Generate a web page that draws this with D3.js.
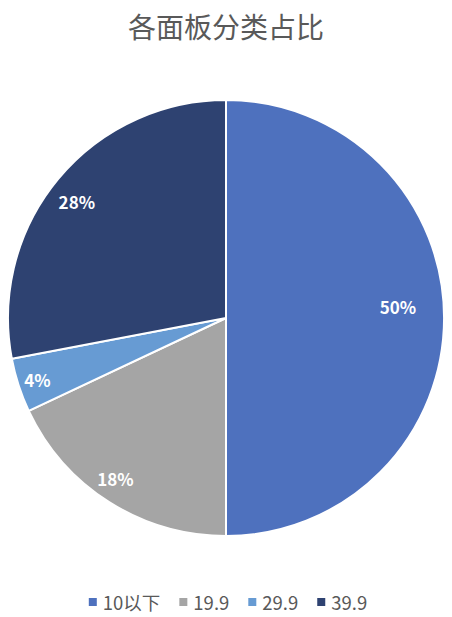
<!DOCTYPE html>
<html><head><meta charset="utf-8">
<script src="https://cdn.jsdelivr.net/npm/d3@7"></script>
<style>
html,body{margin:0;padding:0;background:#fff;}
svg{display:block;font-family:"Noto Sans CJK SC","Noto Sans",sans-serif;}
</style></head>
<body>
<svg id="chart" width="452" height="617"></svg>
<script>
const title = "各面板分类占比";
const categories = ["10以下", "19.9", "29.9", "39.9"];
const values = [50, 18, 4, 28];
const colors = ["#4E71BE", "#A5A5A5", "#679BD3", "#2E4271"];

const svg = d3.select("#chart");
const W = 452, cx = 226, cy = 318, R = 218;
const labelR = [0.79, 0.895, 0.91, 0.867];
const labelShift = [-0.065, 0.037, 0, -0.03];

svg.append("text").attr("x", W/2).attr("y", 26)
  .attr("text-anchor","middle").attr("dominant-baseline","central")
  .attr("font-size", 28).attr("fill","#595959").text(title);

const pie = d3.pie().sort(null).value(d => d);
const arcs = pie(values);
const arc = d3.arc().innerRadius(0).outerRadius(R);
const g = svg.append("g").attr("transform",`translate(${cx},${cy})`);
g.selectAll("path").data(arcs).join("path")
  .attr("d", arc).attr("fill",(d,i)=>colors[i])
  .attr("stroke","#fff").attr("stroke-width",2).attr("stroke-linejoin","round");

const total = d3.sum(values);
g.selectAll("text.lbl").data(arcs).join("text").attr("class","lbl")
  .attr("transform",(d,i)=>{
    const a = (d.startAngle+d.endAngle)/2 + labelShift[i];
    const r = R*labelR[i];
    return `translate(${Math.sin(a)*r},${-Math.cos(a)*r})`;
  })
  .attr("text-anchor","middle").attr("dominant-baseline","central")
  .attr("font-size",17).attr("font-weight",600).attr("fill","#fff")
  .text(d => Math.round(d.data/total*100)+"%");

// legend
const legend = svg.append("g");
const legendY = 602;
const items = legend.selectAll("g").data(categories).join("g");
items.append("rect").attr("width",8).attr("height",8).attr("y",legendY-4)
  .attr("fill",(d,i)=>colors[i]);
items.append("text").attr("x",14).attr("y",legendY)
  .attr("dominant-baseline","central").attr("font-size",18.5).attr("fill","#595959")
  .text(d=>d);
let widths = [];
items.each(function(){ widths.push(this.getBBox().width); });
const gap = 19;
const totalW = d3.sum(widths) + gap*(widths.length-1);
let x = (W - totalW)/2 + 2;
items.attr("transform",(d,i)=>{ const t=`translate(${x},0)`; x += widths[i]+gap; return t; });
</script>
</body></html>
